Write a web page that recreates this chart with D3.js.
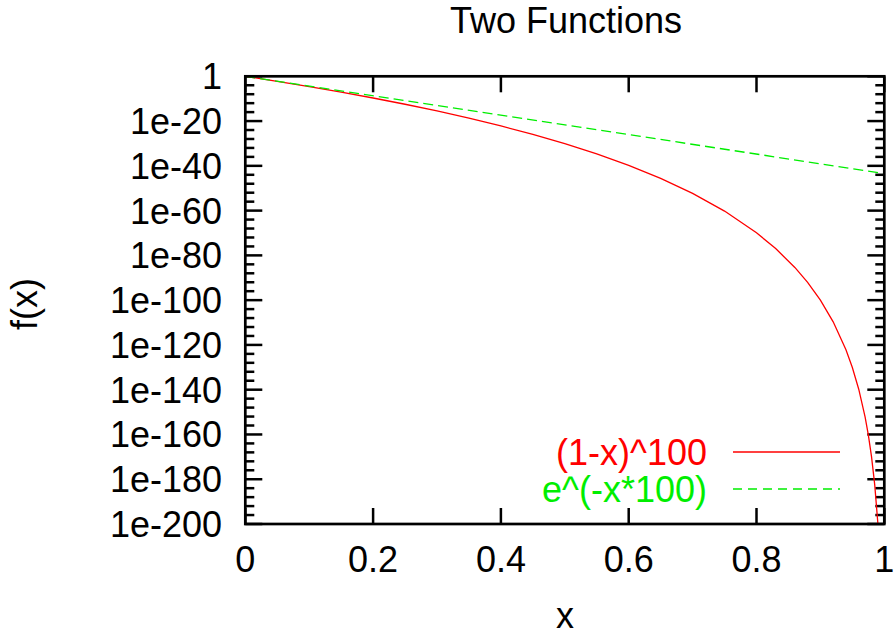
<!DOCTYPE html>
<html>
<head>
<meta charset="utf-8">
<script src="https://cdn.jsdelivr.net/npm/d3@7"></script>
<style>
  body { margin: 0; background: #fff; }
  svg { display: block; font-family: "Liberation Sans", Arial, sans-serif; }
</style>
</head>
<body>
<div id="chart"></div>
<script>
// Werte (Exponent zur Basis 10)
const xValues = [0, 0.05, 0.1, 0.15, 0.2, 0.25, 0.3, 0.35, 0.4, 0.45, 0.5, 0.55, 0.6, 0.65,
                 0.7, 0.75, 0.8, 0.83, 0.86, 0.88, 0.9, 0.92, 0.94, 0.95, 0.96, 0.97, 0.975,
                 0.98, 0.985, 0.99, 0.995];
const powExp = [0, -2.23, -4.58, -7.06, -9.69, -12.49, -15.49, -18.71, -22.18, -25.96, -30.10,
                -34.68, -39.79, -45.59, -52.29, -60.21, -69.90, -76.96, -85.39, -92.08, -100,
                -109.69, -122.18, -130.10, -139.79, -152.29, -160.21, -169.90, -182.39, -200, -230.10];
const expX = [0, 1];
const expExp = [0, -43.43];

const xTicks = [0, 0.2, 0.4, 0.6, 0.8, 1];
const yMajorExp = [0, -20, -40, -60, -80, -100, -120, -140, -160, -180, -200];
const seriesNames = ["(1-x)^100", "e^(-x*100)"];
const seriesColors = ["#ff0000", "#00ee00"];

// Konfiguration
const width = 894, height = 637;
const pL = 245.3, pR = 884.3, pT = 76.3, pB = 524;
const fs = 36;

const svg = d3.select("#chart").append("svg")
    .attr("width", width).attr("height", height);

const x = d3.scaleLinear().domain([0, 1]).range([pL, pR]);
const y = d3.scaleLog().domain([1e-200, 1]).range([pB, pT]);

// Clip
svg.append("clipPath").attr("id", "clip")
  .append("rect").attr("x", pL).attr("y", pT)
  .attr("width", pR - pL).attr("height", pB - pT);

// Minor ticks (alle 4 Dekaden)
const minorExp = d3.range(0, -201, -4).filter(e => e % 20 !== 0);

const tickG = svg.append("g").attr("stroke", "#000").attr("stroke-width", 2.5);
minorExp.forEach(e => {
  const yy = y(Math.pow(10, e));
  tickG.append("line").attr("x1", pL).attr("x2", pL + 9).attr("y1", yy).attr("y2", yy);
  tickG.append("line").attr("x1", pR).attr("x2", pR - 9).attr("y1", yy).attr("y2", yy);
});
yMajorExp.forEach(e => {
  const yy = y(Math.pow(10, e));
  tickG.append("line").attr("x1", pL).attr("x2", pL + 17).attr("y1", yy).attr("y2", yy);
  tickG.append("line").attr("x1", pR).attr("x2", pR - 17).attr("y1", yy).attr("y2", yy);
});
xTicks.forEach(t => {
  tickG.append("line").attr("x1", x(t)).attr("x2", x(t)).attr("y1", pB).attr("y2", pB - 16);
  tickG.append("line").attr("x1", x(t)).attr("x2", x(t)).attr("y1", pT).attr("y2", pT + 16);
});

// Tick-Beschriftungen
svg.append("g").selectAll("text").data(yMajorExp).join("text")
  .attr("x", 222).attr("y", e => y(Math.pow(10, e)))
  .attr("dy", "0.36em").attr("text-anchor", "end")
  .attr("font-size", fs)
  .text(e => e === 0 ? "1" : "1e" + e);

svg.append("g").selectAll("text").data(xTicks).join("text")
  .attr("x", d => x(d)).attr("y", 572)
  .attr("text-anchor", "middle").attr("font-size", fs)
  .text(d => d3.format("")(d));

// Titel und Achsentitel
svg.append("text").attr("x", 566).attr("y", 33).attr("text-anchor", "middle")
  .attr("font-size", fs).text("Two Functions");
svg.append("text").attr("x", 565).attr("y", 628).attr("text-anchor", "middle")
  .attr("font-size", fs).text("x");
svg.append("text").attr("transform", "translate(37,304) rotate(-90)")
  .attr("text-anchor", "middle").attr("font-size", fs).text("f(x)");

// Kurven
const line = d3.line().x(d => x(d[0])).y(d => y(Math.pow(10, d[1])));
const plot = svg.append("g").attr("clip-path", "url(#clip)");
plot.append("path").datum(xValues.map((v, i) => [v, powExp[i]]))
  .attr("d", line).attr("fill", "none")
  .attr("stroke", seriesColors[0]).attr("stroke-width", 1.3);
plot.append("path").datum(expX.map((v, i) => [v, expExp[i]]))
  .attr("d", line).attr("fill", "none")
  .attr("stroke", seriesColors[1]).attr("stroke-width", 1.3)
  .attr("stroke-dasharray", "10,5");

// Legende
const legY = [452, 489];
seriesNames.forEach((n, i) => {
  svg.append("text").attr("x", 707).attr("y", legY[i]).attr("dy", "0.35em")
    .attr("text-anchor", "end").attr("font-size", fs)
    .attr("fill", seriesColors[i]).text(n);
  svg.append("line").attr("x1", 733).attr("x2", 840).attr("y1", legY[i]).attr("y2", legY[i])
    .attr("stroke", seriesColors[i]).attr("stroke-width", 1.3)
    .attr("stroke-dasharray", i === 1 ? "9,6" : null);
});

// Rahmen
svg.append("rect").attr("x", pL).attr("y", pT)
  .attr("width", pR - pL).attr("height", pB - pT)
  .attr("fill", "none").attr("stroke", "#000").attr("stroke-width", 2.7);
</script>
</body>
</html>
